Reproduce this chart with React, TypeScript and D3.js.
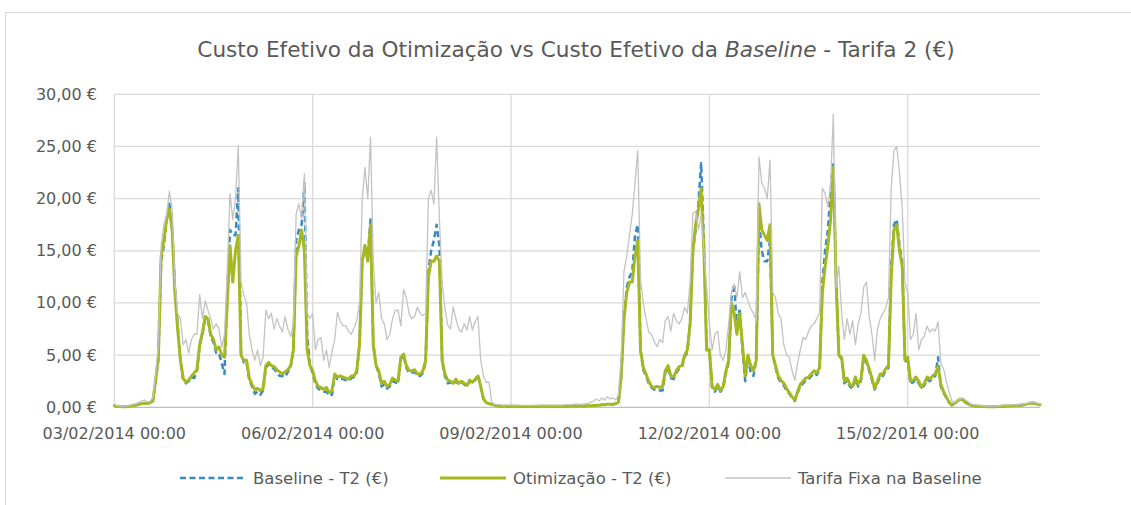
import React from 'react';
import * as d3 from 'd3';

// hourly series, 03/02/2014 00:00 .. 17/02/2014 00:00 (337 points)
const baseline: number[] = [
  // 03/02
  0.15,0.1,0.08,0.05,0.05,0.08, 0.12,0.18,0.22,0.28,0.35,0.4, 0.35,0.45,0.6,2.5,4.6,14, 15.5,18,19.5,17,11.5,7.8,
  // 04/02
  4.5,2.6,2.3,2.5,2.9,2.8, 3.5,6,7,8.5,8.3,6.8, 6.2,5.2,5.2,4.2,3.2,11, 17,16.5,16.5,21,5.2,4.3,
  // 05/02
  4.3,2.6,2.0,1.3,1.5,1.2, 1.6,3.8,4.1,3.8,3.7,3.3, 3.0,3.0,2.9,3.4,3.8,5.5, 16,17,17.5,21.5,7,4,
  // 06/02
  3.3,2.2,1.8,1.6,1.5,1.5, 1.1,1.2,3.0,2.7,2.8,2.7, 2.6,2.5,2.8,2.9,3.3,6, 14,15.5,14.5,18,6,4,
  // 07/02
  3.3,2.0,2.2,1.8,2.0,2.5, 2.4,2.3,4.6,5.0,3.8,3.3, 3.3,3.4,3.0,3.0,3.3,4.3, 13,15,16,17.5,15.5,4.5,
  // 08/02
  3.0,2.3,2.4,2.2,2.5,2.2, 2.4,2.2,2.0,2.5,2.3,2.6, 3.1,2.0,0.8,0.45,0.35,0.3, 0.2,0.15,0.12,0.1,0.1,0.1,
  // 09/02
  0.1,0.1,0.1,0.08,0.08,0.08, 0.08,0.08,0.08,0.08,0.1,0.1, 0.1,0.1,0.1,0.1,0.1,0.1, 0.1,0.1,0.1,0.1,0.12,0.12,
  // 10/02
  0.12,0.12,0.12,0.12,0.15,0.15, 0.18,0.2,0.2,0.25,0.25,0.3, 0.3,0.3,0.35,0.5,3,8.5, 11.5,12.5,13,16.5,17.5,5.5,
  // 11/02
  3.6,3.0,2.3,1.9,1.7,1.6, 1.6,1.6,3.3,3.8,2.8,2.7, 3.3,3.7,3.8,4.8,5.3,8, 15,17,19.5,23.4,16,5.5,
  // 12/02
  5.5,1.8,1.5,2.0,1.5,1.8, 3.3,4.3,10.5,11.8,7.5,9.5, 5.5,2.5,4.8,3.3,3.0,4.5, 18,15,14,14,16,5,
  // 13/02
  3.8,2.8,2.4,2.1,1.6,1.3, 0.9,0.6,1.4,2.0,2.3,2.6, 2.7,3.0,3.3,3.1,3.6,12, 15,17,20.5,23.5,12,5,
  // 14/02
  4.6,2.3,2.6,2.0,1.8,2.7, 2.0,2.5,4.8,4.3,3.5,2.6, 1.7,2.3,3.0,3.0,3.5,3.8, 13.5,17.5,18,15.5,14,4.3,
  // 15/02
  4.6,2.3,2.4,2.7,2.3,1.8, 2.1,2.7,2.5,2.8,3.0,4.8, 2.0,1.4,0.9,0.45,0.2,0.35, 0.55,0.75,0.65,0.45,0.28,0.18,
  // 16/02 + 17/02 00:00
  0.15,0.12,0.1,0.1,0.08,0.06, 0.05,0.05,0.05,0.08,0.1,0.12, 0.12,0.15,0.15,0.18,0.2,0.2, 0.25,0.3,0.38,0.42,0.38,0.3, 0.25,
];

const otimizacao: number[] = [
  0.15,0.1,0.08,0.05,0.05,0.08, 0.12,0.18,0.22,0.28,0.35,0.4, 0.35,0.45,0.6,2.6,4.8,14.5, 16,18,19,17,11,7.5,
  4.5,2.8,2.4,2.6,3.0,3.3, 3.6,6,7.2,8.7,8.5,7, 6.5,5.5,5.8,5,4.8,10, 15.5,12,15,16.5,5,4.5,
  4.5,2.8,2.2,1.7,1.8,1.6, 1.8,4.0,4.3,4.0,3.9,3.6, 3.4,3.2,3.4,3.6,4.0,5.5, 14.5,15.5,17,15,5.5,4,
  3.5,2.5,2.0,1.9,1.7,1.9, 1.4,1.6,3.2,2.9,3.0,2.9, 2.8,2.7,3.0,3.0,3.5,6, 14,15.5,14,17.5,6,4,
  3.5,2.3,2.5,2.0,2.2,2.8, 2.6,2.5,4.8,5.1,4.0,3.5, 3.5,3.6,3.2,3.2,3.5,4.5, 12.5,14,14,14.5,14,4.5,
  3.2,2.6,2.5,2.3,2.7,2.3, 2.5,2.3,2.1,2.6,2.4,2.7, 3.0,2.0,0.8,0.45,0.35,0.3, 0.2,0.15,0.12,0.1,0.1,0.1,
  0.1,0.1,0.1,0.08,0.08,0.08, 0.08,0.08,0.08,0.08,0.1,0.1, 0.1,0.1,0.1,0.1,0.1,0.1, 0.1,0.1,0.1,0.1,0.12,0.12,
  0.12,0.12,0.12,0.12,0.15,0.15, 0.18,0.2,0.2,0.25,0.25,0.3, 0.3,0.3,0.35,0.5,3,8.5, 11,12,12,14.5,16,5.5,
  3.8,3.2,2.5,2.0,1.9,2.0, 1.9,2.0,3.5,4.0,3.0,2.9, 3.5,3.9,4.0,5.0,5.5,8, 15,17.5,19,21,15,5.5,
  5.5,2.0,1.7,2.2,1.6,2.0, 3.5,4.5,10,9,7,9, 6,3,5,4.0,3.5,4.5, 19.5,17,16.5,16,17.5,5,
  4,3.0,2.6,2.3,1.8,1.4, 1.0,0.7,1.5,2.2,2.5,2.8, 2.9,3.2,3.5,3.3,3.8,11, 13.5,15.5,18,23,12,5,
  4.8,2.5,2.8,2.2,2.0,2.9, 2.2,2.7,5.0,4.5,3.7,2.8, 1.8,2.5,3.2,3.2,3.7,4.0, 12.5,17,17.5,15,13.5,4.5,
  4.8,2.5,2.6,2.9,2.5,1.9, 2.3,2.9,2.7,3.0,3.2,3.9, 2.2,1.5,1.0,0.5,0.2,0.4, 0.6,0.8,0.7,0.5,0.3,0.2,
  0.15,0.12,0.1,0.1,0.08,0.06, 0.05,0.05,0.05,0.08,0.1,0.12, 0.12,0.15,0.15,0.18,0.2,0.2, 0.25,0.3,0.38,0.42,0.38,0.3, 0.25,
];

const tarifaFixa: number[] = [
  0.2,0.15,0.12,0.1,0.12,0.15, 0.2,0.3,0.35,0.5,0.6,0.7, 0.5,0.6,0.9,3.2,6,15.5, 17.5,18.5,20.7,19,12,9,
  8.5,6,6.5,5.2,6.5,7, 7,10.8,8.5,10.2,9.3,8.5, 7.5,8,7.5,5.8,7,13, 20.5,18,20,25.1,12,10.8,
  10,7,5.5,4.5,5.5,4, 4.8,9.3,8.5,9,7.5,8.5, 7.8,7.2,8.7,7.5,6.8,8, 18.5,19.5,18,22.4,9,8.5,
  9,5.5,6.5,6.7,4.5,5.5, 3.8,5.3,6.5,9.1,8.3,7.8, 7.8,7.3,7.0,7.6,8.3,10, 20,23,20,25.9,14,10,
  11,8.5,8,6.5,7,8.5, 9.3,9.3,7.8,11.3,10.5,9, 8.5,8.7,9.6,9,8.8,9, 20,20.8,19.5,25.9,18,12,
  9.5,7.9,7.5,9.6,8.5,7.5, 7.2,8,7.4,8.7,7.4,8.2, 8.7,4.5,3.0,2.4,2.4,0.5, 0.3,0.25,0.25,0.2,0.2,0.2,
  0.2,0.2,0.2,0.2,0.18,0.18, 0.18,0.18,0.18,0.2,0.2,0.2, 0.2,0.22,0.2,0.2,0.2,0.2, 0.2,0.22,0.25,0.25,0.25,0.3,
  0.3,0.3,0.3,0.35,0.35,0.5, 0.6,0.8,0.6,0.9,0.7,1.0, 0.8,0.9,0.7,1.2,5,13, 14.5,16.5,18.5,21.5,24.6,12.3,
  10,8.5,7.2,7,6.3,5.8, 6.5,6.2,8.3,8.7,7.3,9, 8.3,8,8.5,9.6,9,12, 18.6,18.8,17,18.5,15.1,11.5,
  8,5.5,7,7.3,5,4.5, 5.5,8,11,11.8,10.5,13, 10.5,11,10.2,9.5,9.0,8.3, 24,21.5,21,20,23.7,11,
  10.5,9,8.5,6,5,4.8, 3.5,2.6,4.2,5.5,6.7,6.5, 7.3,7.8,8,8.5,9,21, 20.5,19.2,21.5,28.1,11.5,13.5,
  9,6.5,8.5,7.0,8.3,6, 8,9,11.5,12,8.7,7, 4.5,7.5,8.5,9,9.5,10.5, 21,24.6,25,22.5,19,12,
  11,6.5,7,9,5.5,6.5, 6.8,7.8,7.2,7.5,7.3,8.2, 4.2,3.7,2.5,1.5,0.6,0.5, 0.6,0.8,0.9,0.7,0.5,0.3,
  0.25,0.2,0.18,0.15,0.15,0.12, 0.12,0.12,0.12,0.15,0.18,0.2, 0.2,0.22,0.22,0.25,0.25,0.3, 0.3,0.35,0.45,0.5,0.5,0.4, 0.3,
];

const xTickLabels: string[] = [
  '03/02/2014 00:00',
  '06/02/2014 00:00',
  '09/02/2014 00:00',
  '12/02/2014 00:00',
  '15/02/2014 00:00',
];
const xTickIndex: number[] = [0, 72, 144, 216, 288];
const yTicks: number[] = [0, 5, 10, 15, 20, 25, 30];
const seriesNames: string[] = ['Baseline - T2 (€)', 'Otimização - T2 (€)', 'Tarifa Fixa na Baseline'];

const W = 1131;
const H = 505;
const FONT = '"DejaVu Sans", sans-serif';
const TXT = '#595959';

export default function App() {
  const x = d3.scaleLinear().domain([0, baseline.length - 1]).range([114.3, 1040]);
  const y = d3.scaleLinear().domain([0, 30]).range([407.3, 94.3]);
  const line = d3
    .line<number>()
    .x((_, i) => x(i))
    .y((d) => y(d));

  const fmt = (v: number) => v.toFixed(2).replace('.', ',') + ' €';

  const legendItems = [
    { name: seriesNames[0], color: '#3A8AC2', width: 2.5, dash: '6,3.5', x0: 180 },
    { name: seriesNames[1], color: '#A6B820', width: 3, dash: undefined, x0: 440 },
    { name: seriesNames[2], color: '#C3C3C3', width: 1.3, dash: undefined, x0: 725 },
  ];

  return (
    <svg
      width={W}
      height={H}
      style={{ position: 'fixed', left: 0, top: 0, background: '#fff' }}
      fontFamily={FONT}
    >
      <rect x={0} y={0} width={W} height={H} fill="#fff" />
      <rect x={5.5} y={12.5} width={W + 10} height={H + 10} fill="none" stroke="#D9D9D9" strokeWidth={1} />

      <text x={576} y={57} textAnchor="middle" fontSize={21.6} fill={TXT}>
        Custo Efetivo da Otimização vs Custo Efetivo da <tspan fontStyle="italic">Baseline</tspan> - Tarifa 2 (€)
      </text>

      {/* horizontal gridlines */}
      {yTicks.map((t) => (
        <line
          key={'h' + t}
          x1={x(0)}
          x2={x(baseline.length - 1)}
          y1={y(t)}
          y2={y(t)}
          stroke={t === 0 ? '#BFBFBF' : '#D9D9D9'}
          strokeWidth={1.3}
        />
      ))}
      {/* vertical gridlines */}
      {xTickIndex.map((idx) => (
        <line key={'v' + idx} x1={x(idx)} x2={x(idx)} y1={y(30)} y2={y(0)} stroke="#D9D9D9" strokeWidth={1.3} />
      ))}

      {/* y labels */}
      {yTicks.map((t) => (
        <text key={'yl' + t} x={97} y={y(t) + 5.5} textAnchor="end" fontSize={16} fill={TXT}>
          {fmt(t)}
        </text>
      ))}
      {/* x labels */}
      {xTickLabels.map((lab, k) => (
        <text key={'xl' + k} x={x(xTickIndex[k])} y={439} textAnchor="middle" fontSize={16} fill={TXT}>
          {lab}
        </text>
      ))}

      {/* series */}
      <path d={line(baseline) || ''} fill="none" stroke="#3A8AC2" strokeWidth={2.5} strokeDasharray="6,3.5" strokeLinejoin="round" />
      <path d={line(otimizacao) || ''} fill="none" stroke="#A6B820" strokeWidth={3} strokeLinejoin="round" strokeLinecap="round" />
      <path d={line(tarifaFixa) || ''} fill="none" stroke="#C3C3C3" strokeWidth={1.3} strokeLinejoin="round" />

      {/* legend */}
      {legendItems.map((it) => (
        <g key={it.name}>
          <line
            x1={it.x0}
            x2={it.x0 + 66}
            y1={478}
            y2={478}
            stroke={it.color}
            strokeWidth={it.width}
            strokeDasharray={it.dash}
          />
          <text x={it.x0 + 73} y={484} fontSize={16.5} fill={TXT}>
            {it.name}
          </text>
        </g>
      ))}
    </svg>
  );
}
